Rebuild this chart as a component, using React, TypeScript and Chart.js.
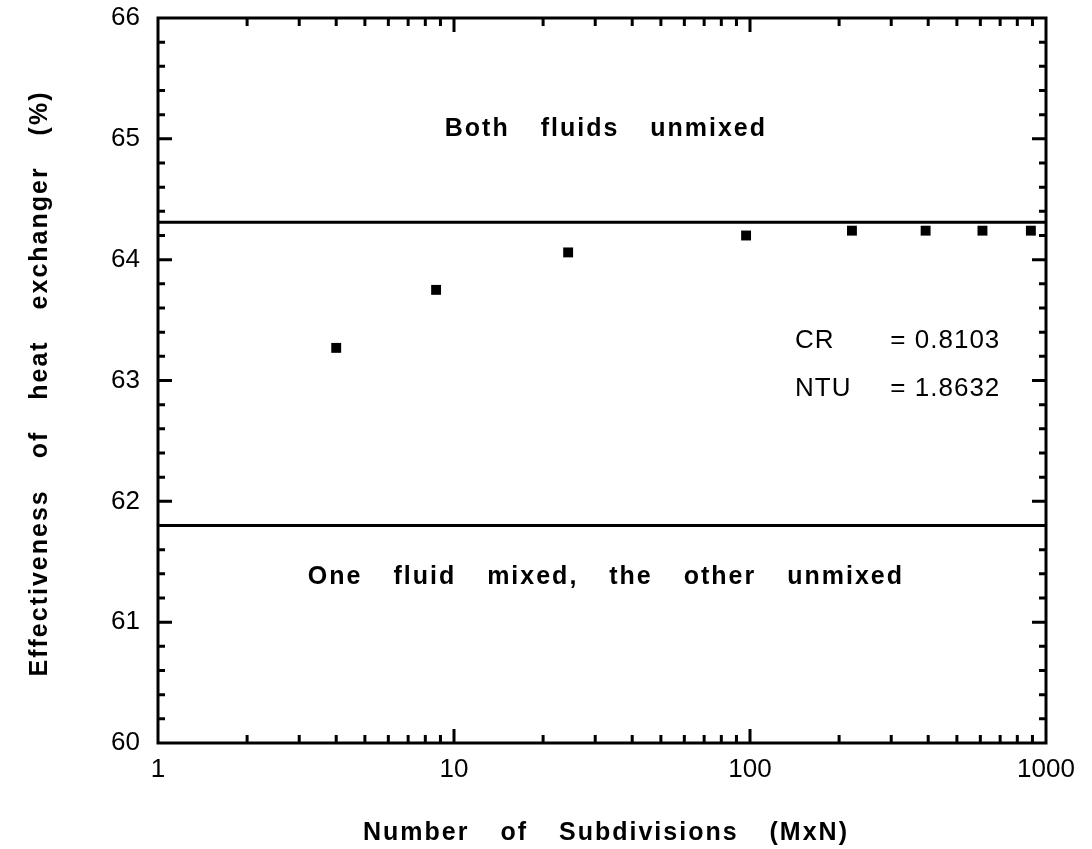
import React, { useEffect, useRef } from "react";
import { Chart, registerables } from "chart.js";

Chart.register(...registerables);

// ---- data ----
const subdivisions = [4, 8.7, 24.3, 97, 221, 392, 610, 889];
const effectiveness = [63.27, 63.75, 64.06, 64.2, 64.24, 64.24, 64.24, 64.24];
const bothUnmixedLimit = 64.31;
const oneMixedLimit = 61.8;
const xRange = [1, 1000];
const yRange = [60, 66];
const xTickValues = [1, 10, 100, 1000];
const yTickValues = [60, 61, 62, 63, 64, 65, 66];
const regionLabels = ["Both fluids unmixed", "One fluid mixed, the other unmixed"];
const paramNames = ["CR", "NTU"];
const paramValues = ["= 0.8103", "= 1.8632"];
const xTitle = "Number of Subdivisions (MxN)";
const yTitle = "Effectiveness of heat exchanger (%)";

const FONT = '"Liberation Sans", Arial, Helvetica, sans-serif';

const framePlugin = {
  id: "framePlugin",
  afterDatasetsDraw(chart: any) {
    const { ctx, chartArea: a, scales } = chart;
    const xs = scales.x;
    const ys = scales.y;
    ctx.save();
    ctx.strokeStyle = "#000";
    ctx.fillStyle = "#000";
    ctx.lineWidth = 3;
    ctx.lineCap = "butt";
    ctx.strokeRect(a.left, a.top, a.right - a.left, a.bottom - a.top);

    // y ticks (inward, both sides)
    for (let v = yRange[0]; v <= yRange[1] + 1e-9; v += 0.2) {
      const vv = Math.round(v * 10) / 10;
      if (vv <= yRange[0] || vv >= yRange[1]) continue;
      const major = Math.abs(vv - Math.round(vv)) < 1e-6;
      const len = major ? 14 : 7;
      const y = ys.getPixelForValue(vv);
      ctx.beginPath();
      ctx.moveTo(a.left, y);
      ctx.lineTo(a.left + len, y);
      ctx.moveTo(a.right, y);
      ctx.lineTo(a.right - len, y);
      ctx.stroke();
    }
    // x ticks (inward, top and bottom)
    for (let d = 1; d < 1000; d *= 10) {
      for (let m = 1; m <= 9; m++) {
        const v = d * m;
        if (v <= xRange[0] || v >= xRange[1]) continue;
        const major = m === 1;
        const len = major ? 14 : 8;
        const x = xs.getPixelForValue(v);
        ctx.beginPath();
        ctx.moveTo(x, a.bottom);
        ctx.lineTo(x, a.bottom - len);
        ctx.moveTo(x, a.top);
        ctx.lineTo(x, a.top + len);
        ctx.stroke();
      }
    }

    // region labels
    ctx.font = `bold 25px ${FONT}`;
    (ctx as any).letterSpacing = "2px";
    (ctx as any).wordSpacing = "22px";
    ctx.textAlign = "center";
    ctx.textBaseline = "middle";
    const cx = xs.getPixelForValue(32.6);
    ctx.fillText(regionLabels[0], cx, ys.getPixelForValue(65.08));
    ctx.fillText(regionLabels[1], cx, ys.getPixelForValue(61.37));

    // parameters
    ctx.font = `26px ${FONT}`;
    (ctx as any).letterSpacing = "1px";
    (ctx as any).wordSpacing = "0px";
    ctx.textAlign = "left";
    const nameX = xs.getPixelForValue(142);
    const valX = xs.getPixelForValue(298);
    const py = [63.33, 62.93];
    for (let i = 0; i < paramNames.length; i++) {
      const y = ys.getPixelForValue(py[i]);
      ctx.fillText(paramNames[i], nameX, y);
      ctx.fillText(paramValues[i], valX, y);
    }

    // axis titles
    ctx.font = `bold 25px ${FONT}`;
    (ctx as any).letterSpacing = "2px";
    (ctx as any).wordSpacing = "22px";
    ctx.textAlign = "center";
    ctx.fillText(xTitle, (a.left + a.right) / 2 + 4, a.bottom + 90);
    ctx.save();
    ctx.translate(40, (a.top + a.bottom) / 2 + 3);
    ctx.rotate(-Math.PI / 2);
    ctx.fillText(yTitle, 0, 0);
    ctx.restore();

    ctx.restore();
  },
};

export default function App() {
  const ref = useRef<HTMLCanvasElement | null>(null);
  useEffect(() => {
    document.body.style.margin = "0";
    if (!ref.current) return;
    const chart = new Chart(ref.current, {
      type: "scatter",
      data: {
        datasets: [
          {
            label: "Effectiveness",
            data: subdivisions.map((x, i) => ({ x, y: effectiveness[i] })),
            pointStyle: "rect",
            pointRadius: 7,
            pointHoverRadius: 7,
            backgroundColor: "#000",
            borderColor: "#000",
            borderWidth: 0,
            showLine: false,
          },
          {
            type: "line",
            label: "Both fluids unmixed",
            data: [
              { x: xRange[0], y: bothUnmixedLimit },
              { x: xRange[1], y: bothUnmixedLimit },
            ],
            borderColor: "#000",
            borderWidth: 3,
            pointRadius: 0,
            fill: false,
          },
          {
            type: "line",
            label: "One fluid mixed",
            data: [
              { x: xRange[0], y: oneMixedLimit },
              { x: xRange[1], y: oneMixedLimit },
            ],
            borderColor: "#000",
            borderWidth: 3,
            pointRadius: 0,
            fill: false,
          },
        ] as any,
      },
      options: {
        animation: false,
        responsive: false,
        devicePixelRatio: 1,
        layout: { padding: { top: 18, right: 46, left: 0, bottom: 0 } },
        plugins: { legend: { display: false }, tooltip: { enabled: false } },
        scales: {
          x: {
            type: "logarithmic",
            min: xRange[0],
            max: xRange[1],
            grid: { display: false, drawTicks: false },
            border: { display: false },
            ticks: {
              color: "#000",
              font: { family: FONT, size: 26 },
              padding: 11,
              maxRotation: 0,
              autoSkip: false,
              callback: (v: any) => String(v),
            },
            afterBuildTicks: (s: any) => {
              s.ticks = xTickValues.map((v) => ({ value: v }));
            },
            afterFit: (s: any) => {
              s.height = 106;
              s.paddingLeft = 0;
              s.paddingRight = 0;
            },
          },
          y: {
            type: "linear",
            min: yRange[0],
            max: yRange[1],
            grid: { display: false, drawTicks: false },
            border: { display: false },
            ticks: {
              color: "#000",
              font: { family: FONT, size: 26 },
              padding: 18,
              callback: (v: any) => String(v),
            },
            afterBuildTicks: (s: any) => {
              s.ticks = yTickValues.map((v) => ({ value: v }));
            },
            afterFit: (s: any) => {
              s.width = 158;
              s.paddingTop = 0;
              s.paddingBottom = 0;
            },
          },
        },
      } as any,
      plugins: [framePlugin],
    });
    return () => chart.destroy();
  }, []);
  return (
    <div style={{ width: 1092, height: 849 }}>
      <canvas ref={ref} width={1092} height={849} style={{ display: "block" }} />
    </div>
  );
}
